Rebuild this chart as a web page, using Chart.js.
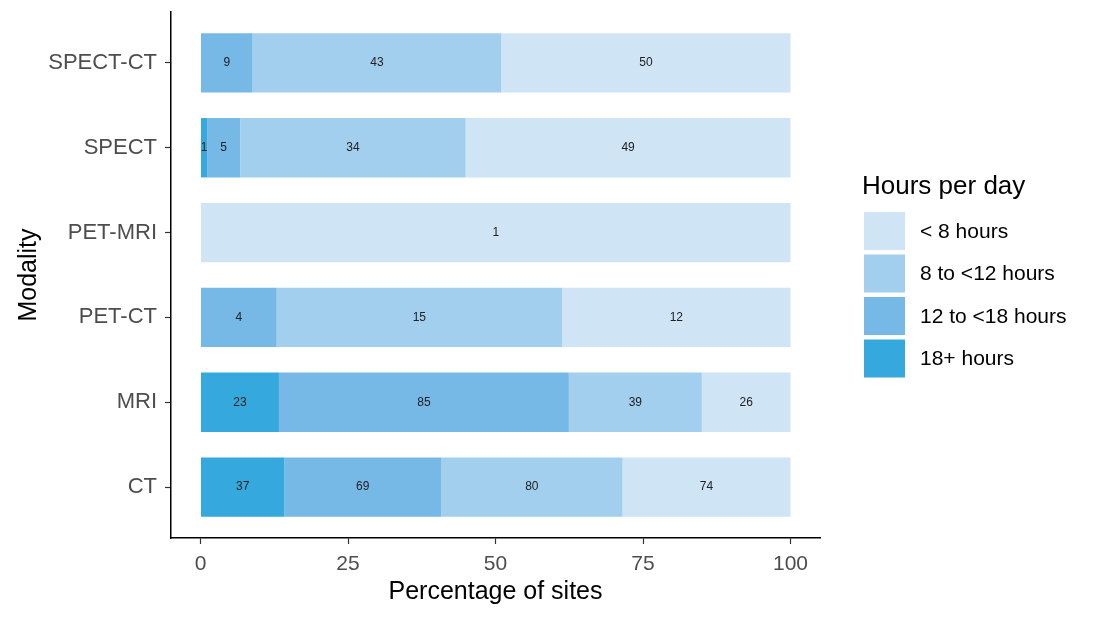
<!DOCTYPE html>
<html>
<head>
<meta charset="utf-8">
<script src="https://cdn.jsdelivr.net/npm/chart.js@4.4.1/dist/chart.umd.min.js"></script>
<style>
  html, body { margin: 0; padding: 0; background: #fff; }
  #wrap { width: 1101px; height: 619px; }
</style>
</head>
<body>
<div id="wrap"><canvas id="chart"></canvas></div>
<script>
// categories bottom to top, series left to right (counts of sites)
const modalities = ["CT", "MRI", "PET-CT", "PET-MRI", "SPECT", "SPECT-CT"];
const hoursLabels = ["18+ hours", "12 to <18 hours", "8 to <12 hours", "< 8 hours"];
const hours18plus = [37, 23, 0, 0, 1, 0];
const hours12to18 = [69, 85, 4, 0, 5, 9];
const hours8to12 = [80, 39, 15, 0, 34, 43];
const hoursUnder8 = [74, 26, 12, 1, 49, 50];
const xTicks = [0, 25, 50, 75, 100];
const colors = ["#35a8dd", "#76b8e6", "#a3cfee", "#cfe4f4"];

const FONT = "Arial, 'Liberation Sans', sans-serif";

const counts = [hours18plus, hours12to18, hours8to12, hoursUnder8];
const totals = modalities.map((m, i) => counts.reduce((s, c) => s + c[i], 0));

const datasets = counts.map((c, k) => ({
  label: hoursLabels[k],
  backgroundColor: colors[k],
  borderWidth: 0,
  counts: c,
  data: c.map((v, i) => ({ x: v / totals[i] * 100, y: i })),
  categoryPercentage: 1,
  barPercentage: 0.7
}));

// count labels in the middle of each segment
const barLabels = {
  id: "barLabels",
  afterDatasetsDraw(chart) {
    const ctx = chart.ctx;
    ctx.save();
    ctx.font = "12px " + FONT;
    ctx.fillStyle = "#222";
    ctx.textAlign = "center";
    ctx.textBaseline = "middle";
    chart.data.datasets.forEach((ds, k) => {
      chart.getDatasetMeta(k).data.forEach((bar, i) => {
        const n = ds.counts[i];
        if (!n) return;
        const p = bar.getProps(["x", "y", "base"], true);
        ctx.fillText(String(n), (p.x + p.base) / 2, p.y);
      });
    });
    ctx.restore();
  }
};

// ggplot-like legend on the right, reversed order
const sideLegend = {
  id: "sideLegend",
  afterDraw(chart) {
    const ctx = chart.ctx;
    const area = chart.chartArea;
    const left = area.right + 44;
    const top = (area.top + area.bottom) / 2 - 88;
    ctx.save();
    ctx.textAlign = "left";
    ctx.textBaseline = "middle";
    ctx.fillStyle = "#000";
    ctx.font = "26px " + FONT;
    ctx.fillText("Hours per day", left - 2, top);
    ctx.font = "21px " + FONT;
    const ds = chart.data.datasets.slice().reverse();
    ds.forEach((d, j) => {
      const y = top + 25 + j * 42.5;
      ctx.fillStyle = d.backgroundColor;
      ctx.fillRect(left, y, 41, 38);
      ctx.fillStyle = "#000";
      ctx.fillText(d.label, left + 56, y + 20);
    });
    ctx.restore();
  }
};

new Chart(document.getElementById("chart"), {
  type: "bar",
  data: { datasets: datasets },
  plugins: [barLabels, sideLegend],
  options: {
    indexAxis: "y",
    responsive: true,
    maintainAspectRatio: false,
    animation: false,
    layout: { padding: { top: 12, right: 281, bottom: 0, left: 0 } },
    plugins: {
      legend: { display: false },
      tooltip: { enabled: false }
    },
    scales: {
      x: {
        type: "linear",
        stacked: true,
        min: -5,
        max: 105,
        afterBuildTicks: s => { s.ticks = xTicks.map(v => ({ value: v })); },
        afterFit: s => { s.height = 81; },
        border: { display: true, color: "#000", width: 1.5 },
        grid: { drawOnChartArea: false, drawTicks: true, tickLength: 6, color: "#333", tickWidth: 1.2 },
        ticks: { color: "#4d4d4d", font: { family: FONT, size: 21 }, padding: 8, maxRotation: 0 },
        title: { display: true, text: "Percentage of sites", color: "#000",
                 font: { family: FONT, size: 25 }, padding: { top: 0, bottom: 12 } }
      },
      y: {
        type: "linear",
        stacked: true,
        offset: false,
        min: -0.6,
        max: 5.6,
        afterBuildTicks: s => { s.ticks = modalities.map((m, i) => ({ value: i })); },
        afterFit: s => { s.width = 171; s.paddingTop = 0; s.paddingBottom = 0; },
        border: { display: true, color: "#000", width: 1.5 },
        grid: { offset: false, drawOnChartArea: false, drawTicks: true, tickLength: 6, color: "#333", tickWidth: 1.2 },
        ticks: { color: "#4d4d4d", font: { family: FONT, size: 22 }, padding: 8,
                 callback: v => modalities[v] },
        title: { display: true, text: "Modality", color: "#000",
                 font: { family: FONT, size: 25 }, padding: { top: 14, bottom: 0 } }
      }
    }
  }
});
</script>
</body>
</html>
